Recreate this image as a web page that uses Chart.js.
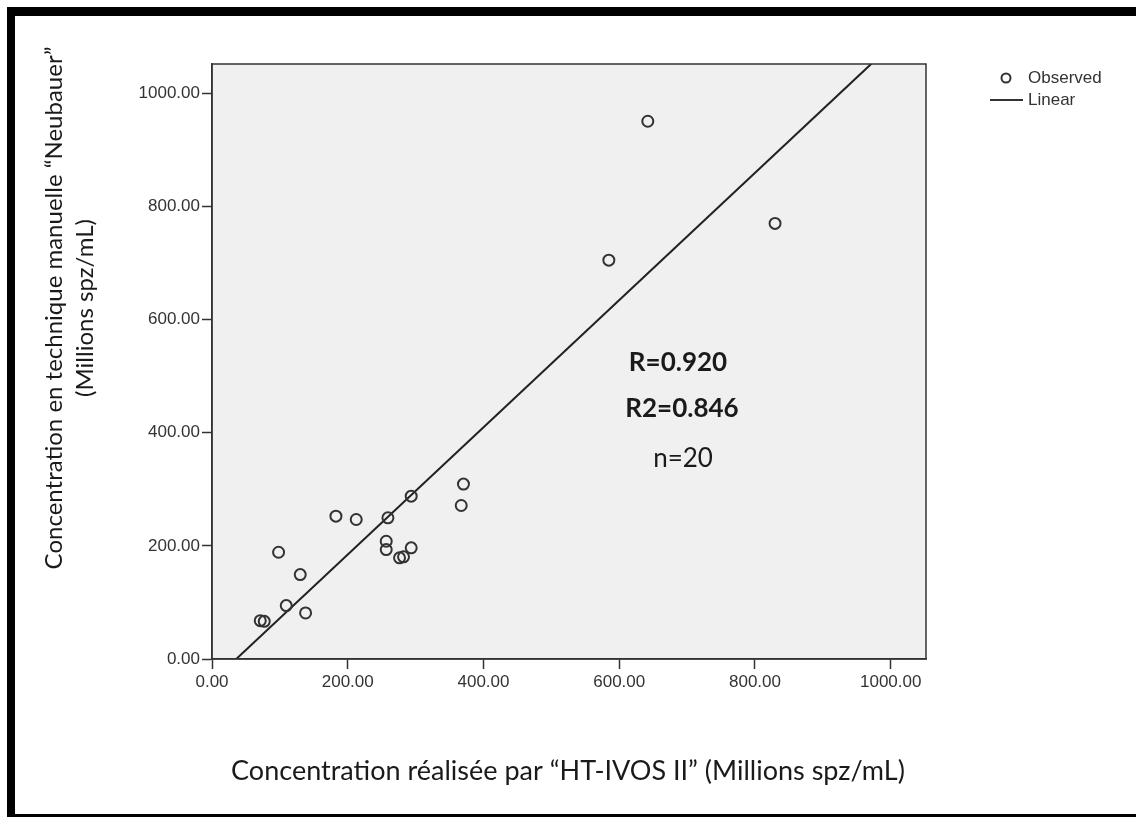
<!DOCTYPE html>
<html>
<head>
<meta charset="utf-8">
<title>Concentration HT-IVOS II vs Neubauer</title>
<script src="https://cdn.jsdelivr.net/npm/chart.js@4/dist/chart.umd.min.js"></script>
<style>
  html, body { margin: 0; padding: 0; background: #fff; overflow: hidden; }
  #frame { position: absolute; left: 7px; top: 7px; width: 1300px; height: 815px;
           border: 8px solid #000; border-top-width: 9px; box-sizing: border-box; }
  #wrap { position: absolute; left: 0; top: 0; width: 1136px; height: 817px; }
</style>
</head>
<body>
<div id="frame"></div>
<div id="wrap"><canvas id="myChart"></canvas></div>
<script>
// observed points (HT-IVOS II on x, Neubauer on y)
const obsX = [370.5, 367.2, 182.6, 212.5, 259.2, 293.5, 98.1, 256.7, 256.7, 276.3,
              282.2, 293.5, 130.0, 109.4, 137.9, 71.1, 77.0, 642.1, 829.6, 584.7];
const obsY = [309.2, 271.4, 252.5, 246.6, 249.6, 287.9, 188.7, 208.2, 193.5, 178.8,
              180.6, 196.5, 149.3, 94.4, 81.4, 67.8, 66.6, 950.8, 770.2, 705.2];

// fitted line, two end points read where it meets the plot frame
const fitX = [35.8, 972];
const fitY = [0, 1053];

const axisTicks = [0, 200, 400, 600, 800, 1000];
const axisMax = 1052;

const legendLabels = ['Observed', 'Linear'];
const statLabels = ['R=0.920', 'R2=0.846', 'n=20'];
const xTitle = 'Concentration réalisée par “HT-IVOS II” (Millions spz/mL)';
const yTitle = ['Concentration en technique manuelle “Neubauer”', '(Millions spz/mL)'];

const ink = '#333';

// grey plot background + frame round the plot
const plotBox = {
  id: 'plotBox',
  beforeDraw(chart) {
    const { ctx, chartArea: a } = chart;
    ctx.save();
    ctx.fillStyle = '#f0f0f0';
    ctx.fillRect(a.left, a.top, a.right - a.left, a.bottom - a.top);
    ctx.restore();
  },
  afterDraw(chart) {
    const { ctx, chartArea: a } = chart;
    ctx.save();
    ctx.strokeStyle = ink;
    ctx.lineWidth = 1.5;
    ctx.strokeRect(a.left, a.top, a.right - a.left, a.bottom - a.top);
    ctx.restore();
  }
};

// titles, stats text and the legend on the right
const extraText = {
  id: 'extraText',
  afterDraw(chart) {
    const ctx = chart.ctx;
    ctx.save();
    ctx.fillStyle = '#1a1a1a';
    ctx.textAlign = 'center';
    ctx.textBaseline = 'middle';

    ctx.font = '27px Lato';
    ctx.fillText(xTitle, 568, 771);

    ctx.save();
    ctx.translate(54, 308);
    ctx.rotate(-Math.PI / 2);
    ctx.font = '24px Lato';
    ctx.fillText(yTitle[0], 0, 0);
    ctx.fillText(yTitle[1], 0, 31);
    ctx.restore();

    ctx.font = 'bold 26px Lato';
    ctx.fillText(statLabels[0], 678, 363);
    ctx.fillText(statLabels[1], 682, 409);
    ctx.font = '26px Lato';
    ctx.fillText(statLabels[2], 683, 459);

    // legend
    ctx.strokeStyle = ink;
    ctx.lineWidth = 2;
    ctx.beginPath();
    ctx.arc(1006, 78, 4.5, 0, Math.PI * 2);
    ctx.stroke();
    ctx.beginPath();
    ctx.moveTo(990, 100);
    ctx.lineTo(1023, 100);
    ctx.stroke();
    ctx.fillStyle = ink;
    ctx.textAlign = 'left';
    ctx.font = '17px "Liberation Sans"';
    ctx.fillText(legendLabels[0], 1028, 78);
    ctx.fillText(legendLabels[1], 1028, 100);
    ctx.restore();
  }
};

const tickCfg = {
  color: ink,
  font: { family: '"Liberation Sans", Arial, sans-serif', size: 17 },
  includeBounds: false,
  callback: v => Number(v).toFixed(2)
};

let myChart = new Chart(document.getElementById('myChart').getContext('2d'), {
  type: 'scatter',
  data: {
    datasets: [{
      label: legendLabels[0],
      data: obsX.map((x, i) => ({ x: x, y: obsY[i] })),
      pointRadius: 5.5,
      pointBorderWidth: 2,
      pointBorderColor: ink,
      pointBackgroundColor: 'rgba(0,0,0,0)'
    }, {
      label: legendLabels[1],
      type: 'line',
      data: fitX.map((x, i) => ({ x: x, y: fitY[i] })),
      borderColor: '#222',
      borderWidth: 2,
      pointRadius: 0,
      fill: false
    }]
  },
  options: {
    responsive: true,
    maintainAspectRatio: false,
    animation: false,
    layout: { padding: { top: 64, right: 210, left: 0, bottom: 0 } },
    plugins: { legend: { display: false }, tooltip: { enabled: false } },
    scales: {
      x: {
        type: 'linear', min: 0, max: axisMax,
        afterBuildTicks: s => { s.ticks = axisTicks.map(v => ({ value: v })); },
        afterFit: s => { s.height = 158; },
        grid: { drawOnChartArea: false, tickLength: 10, tickColor: ink, tickWidth: 1.5 },
        border: { color: ink, width: 1.5 },
        ticks: Object.assign({ padding: 3, maxRotation: 0 }, tickCfg)
      },
      y: {
        type: 'linear', min: 0, max: axisMax,
        afterBuildTicks: s => { s.ticks = axisTicks.map(v => ({ value: v })); },
        afterFit: s => { s.width = 212; },
        grid: { drawOnChartArea: false, tickLength: 10, tickColor: ink, tickWidth: 1.5 },
        border: { color: ink, width: 1.5 },
        ticks: Object.assign({ padding: 2 }, tickCfg)
      }
    }
  },
  plugins: [plotBox, extraText]
});
</script>
</body>
</html>
